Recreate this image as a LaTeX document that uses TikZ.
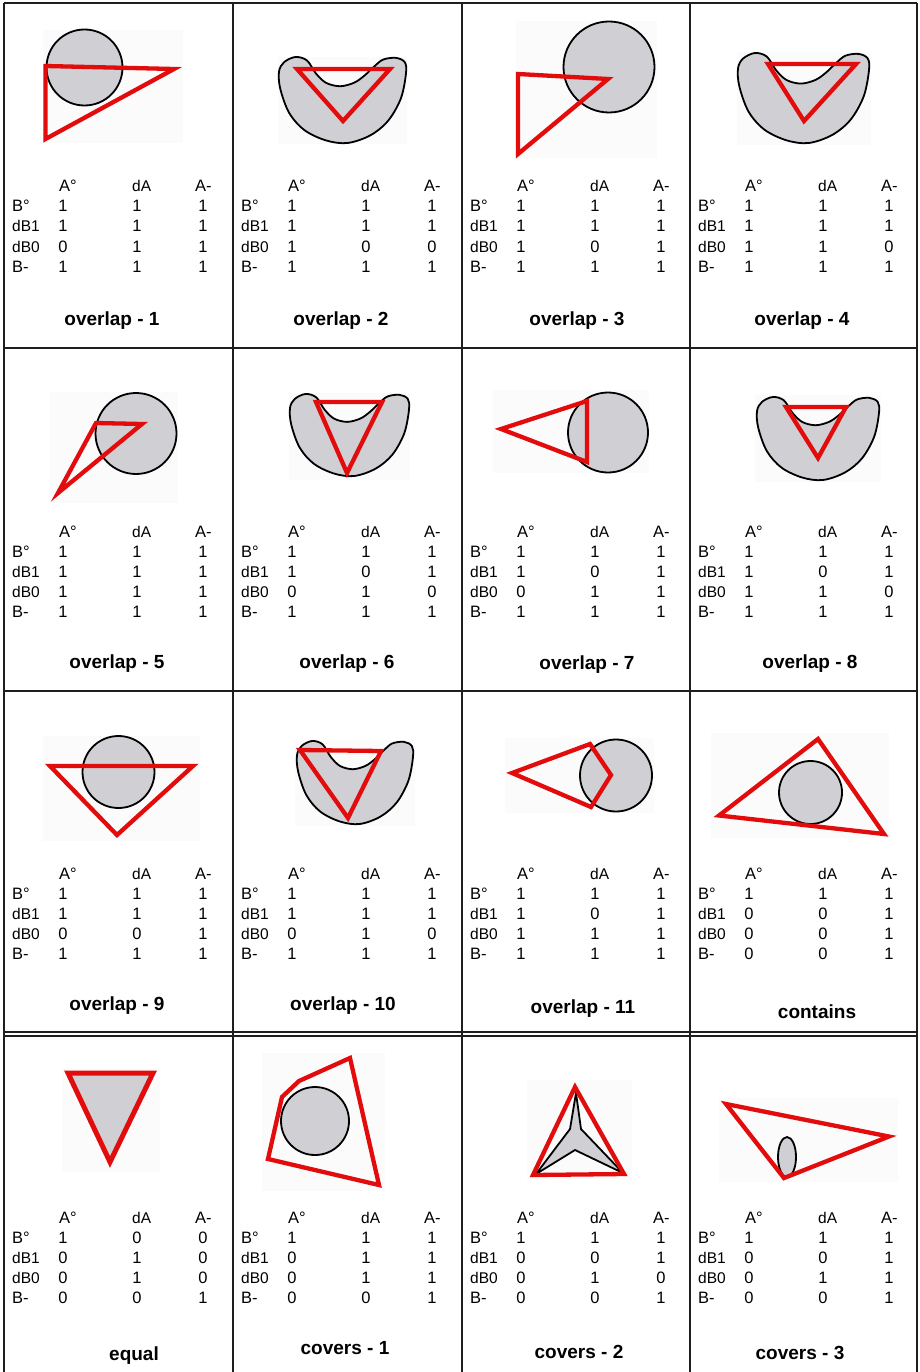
\documentclass[tikz,border=0pt]{standalone}
\usepackage{fontspec}
\setmainfont{Liberation Sans}
\definecolor{regfill}{RGB}{208,208,212}
\definecolor{rline}{RGB}{226,12,12}
\definecolor{bgpale}{RGB}{251,251,251}
\definecolor{gridc}{RGB}{30,30,30}
\tikzset{
  gridline/.style={draw=gridc, line width=1.4pt},
  hgridline/.style={draw=gridc, line width=2pt},
  figbg/.style={fill=bgpale, draw=none},
  region/.style={fill=regfill, draw=black, line width=1.8pt, line join=round},
  redpoly/.style={draw=rline, line width=4.3pt, line join=miter},
  hd/.style={inner sep=0pt, font=\fontsize{16.5}{18}\selectfont},
  hds/.style={inner sep=0pt, font=\fontsize{15.5}{18}\selectfont},
  ttl/.style={inner sep=0pt, anchor=base, font=\fontsize{19}{22}\selectfont\bfseries},
}
\newcommand{\ctab}[4]{%
  \node[hd, anchor=base west] (#1-ha) at ({#2+55},#3) {A°};
  \node[hds, anchor=base west] (#1-hd) at ({#2+128},#3) {dA};
  \node[hd, anchor=base west] (#1-hm) at ({#2+191},#3) {A-};
  \node[hd, anchor=base west] (#1-r1) at ({#2+8},{#3+20}) {B°};
  \node[hds, anchor=base west] (#1-r2) at ({#2+8},{#3+40}) {dB1};
  \node[hds, anchor=base west] (#1-r3) at ({#2+8},{#3+60}) {dB0};
  \node[hd, anchor=base west] (#1-r4) at ({#2+8},{#3+80}) {B-};
  \foreach \v [count=\k from 0] in {#4} {
    \pgfmathtruncatemacro\rr{floor(\k/3)}
    \pgfmathtruncatemacro\cc{mod(\k,3)}
    \ifcase\cc \def\xo{59}\or \def\xo{133}\or \def\xo{199}\fi
    \node[hd, anchor=base] (#1-v\k) at ({#2+\xo},{#3+20*(\rr+1)}) {\v};
  }
}
\newcommand{\bean}[4]{%
  \begin{scope}[shift={(#1,#2)}, xscale=#3, yscale=#4]
    \filldraw[region] plot[smooth cycle, tension=0.55] coordinates {
      (0.04,0.06) (0.13,0.0) (0.22,0.04) (0.29,0.19) (0.37,0.30) (0.48,0.34)
      (0.59,0.30) (0.67,0.22) (0.75,0.11) (0.82,0.03) (0.92,0.01) (0.99,0.06)
      (1.0,0.19) (0.96,0.48) (0.86,0.74) (0.72,0.91) (0.54,1.0) (0.37,0.97)
      (0.20,0.85) (0.08,0.65) (0.01,0.37) (0.0,0.17)};
  \end{scope}
}
\begin{document}
\begin{tikzpicture}[x=1pt, y=-1pt]
\useasboundingbox (0,0) rectangle (919,1372);
\fill[white] (0,0) rectangle (919,1372);

% ---------- grid ----------
\draw[hgridline] (4,3.5) -- (917,3.5);
\draw[hgridline] (4,347.5) -- (917,347.5);
\draw[hgridline] (4,691) -- (917,691);
\draw[gridline] (4,1032) -- (917,1032);
\draw[gridline] (4,1036) -- (917,1036);
\foreach \gx in {4,233,462,690,917} {\draw[gridline] (\gx,3) -- (\gx,1372);}

% ---------- row 1 ----------
% overlap - 1
\fill[figbg] (43,30) rectangle (183,143);
\filldraw[region] (84.5,67.5) circle [radius=38];
\draw[redpoly] (45.5,66) -- (174,69) -- (45.5,139) -- cycle;
% overlap - 2
\fill[figbg] (278,57) rectangle (407,144);
\bean{279}{57}{127}{86}
\draw[redpoly] (297,69) -- (390,69) -- (343,121) -- cycle;
% overlap - 3
\fill[figbg] (516,21) rectangle (657,158);
\filldraw[region] (609,67) circle [radius=45.5];
\draw[redpoly] (518,74) -- (608,79) -- (518,154) -- cycle;
% overlap - 4
\fill[figbg] (737,52) rectangle (871,145);
\bean{738}{53}{131}{90}
\draw[redpoly] (768,64) -- (856,64) -- (804,121) -- cycle;

% ---------- row 2 ----------
% overlap - 5
\fill[figbg] (50,392) rectangle (178,503);
\filldraw[region] (136,433.5) circle [radius=40.5];
\draw[redpoly] (96,423) -- (142,424) -- (58,493) -- cycle;
% overlap - 6
\fill[figbg] (289,393) rectangle (410,480);
\bean{290}{394}{119}{82}
\draw[redpoly] (316,402) -- (382,402) -- (347,473) -- cycle;
% overlap - 7
\fill[figbg] (493,390) rectangle (649,473);
\filldraw[region] (608,432.5) circle [radius=40];
\draw[redpoly] (501,429) -- (587,401) -- (587,462) -- cycle;
% overlap - 8
\fill[figbg] (755,395) rectangle (881,482);
\bean{757}{397}{122}{83}
\draw[redpoly] (786,407) -- (846,407) -- (818,458) -- cycle;

% ---------- row 3 ----------
% overlap - 9
\fill[figbg] (43,736) rectangle (200,841);
\filldraw[region] (118.5,772) circle [radius=36];
\draw[redpoly] (50,766) -- (193,766) -- (117,835) -- cycle;
% overlap - 10
\fill[figbg] (295,740) rectangle (415,826);
\bean{297}{741}{116}{83}
\draw[redpoly] (300,750) -- (381,751) -- (348,818) -- cycle;
% overlap - 11
\fill[figbg] (505,738) rectangle (654,813);
\filldraw[region] (616,775.5) circle [radius=36];
\draw[redpoly] (512,773) -- (590,744) -- (611,775) -- (591,807) -- cycle;
% contains
\fill[figbg] (711,733) rectangle (889,838);
\filldraw[region] (810.5,792.5) circle [radius=31.5];
\draw[redpoly] (818,739) -- (884,834) -- (719,815.5) -- cycle;

% ---------- row 4 ----------
% equal
\fill[figbg] (62,1068) rectangle (160,1172);
\filldraw[fill=regfill, draw=rline, line width=5pt, line join=miter] (68,1073) -- (153,1073) -- (110,1162) -- cycle;
% covers - 1
\fill[figbg] (262,1053) rectangle (385,1191);
\filldraw[region] (315,1121) circle [radius=34];
\draw[redpoly] (350,1058) -- (379,1185) -- (268,1159) -- (282,1097) -- (299,1081) -- cycle;
% covers - 2
\fill[figbg] (527,1080) rectangle (632,1179);
\filldraw[region, line join=miter] (576,1093) -- (581,1129) -- (623,1173) -- (575,1150) -- (536,1174) -- (570,1129) -- cycle;
\draw[redpoly] (575,1087) -- (624,1174) -- (533,1175) -- cycle;
% covers - 3
\fill[figbg] (719,1098) rectangle (898,1182);
\filldraw[region] (787,1157) ellipse [x radius=9, y radius=20];
\draw[redpoly] (726,1104) -- (889,1136.5) -- (784,1178) -- cycle;

% ---------- tables ----------
\ctab{t1}{4}{192}{1,1,1,1,1,1,0,1,1,1,1,1}
\ctab{t2}{233}{192}{1,1,1,1,1,1,1,0,0,1,1,1}
\ctab{t3}{462}{192}{1,1,1,1,1,1,1,0,1,1,1,1}
\ctab{t4}{690}{192}{1,1,1,1,1,1,1,1,0,1,1,1}
\ctab{t5}{4}{537}{1,1,1,1,1,1,1,1,1,1,1,1}
\ctab{t6}{233}{537}{1,1,1,1,0,1,0,1,0,1,1,1}
\ctab{t7}{462}{537}{1,1,1,1,0,1,0,1,1,1,1,1}
\ctab{t8}{690}{537}{1,1,1,1,0,1,1,1,0,1,1,1}
\ctab{t9}{4}{879}{1,1,1,1,1,1,0,0,1,1,1,1}
\ctab{t10}{233}{879}{1,1,1,1,1,1,0,1,0,1,1,1}
\ctab{t11}{462}{879}{1,1,1,1,0,1,1,1,1,1,1,1}
\ctab{t12}{690}{879}{1,1,1,0,0,1,0,0,1,0,0,1}
\ctab{t13}{4}{1223}{1,0,0,0,1,0,0,1,0,0,0,1}
\ctab{t14}{233}{1223}{1,1,1,0,1,1,0,1,1,0,0,1}
\ctab{t15}{462}{1223}{1,1,1,0,0,1,0,1,0,0,0,1}
\ctab{t16}{690}{1223}{1,1,1,0,0,1,0,1,1,0,0,1}

% ---------- titles ----------
\node[ttl] (n1) at (112,325) {overlap - 1};
\node[ttl] (n2) at (341,325) {overlap - 2};
\node[ttl] (n3) at (577,325) {overlap - 3};
\node[ttl] (n4) at (802,325) {overlap - 4};
\node[ttl] (n5) at (117,668) {overlap - 5};
\node[ttl] (n6) at (347,668) {overlap - 6};
\node[ttl] (n7) at (587,669) {overlap - 7};
\node[ttl] (n8) at (810,668) {overlap - 8};
\node[ttl] (n9) at (117,1010) {overlap - 9};
\node[ttl] (n10) at (343,1010) {overlap - 10};
\node[ttl] (n11) at (583,1013) {overlap - 11};
\node[ttl] (n12) at (817,1018) {contains};
\node[ttl] (n13) at (134,1360) {equal};
\node[ttl] (n14) at (345,1354) {covers - 1};
\node[ttl] (n15) at (579,1358) {covers - 2};
\node[ttl] (n16) at (800,1359) {covers - 3};
\end{tikzpicture}
\end{document}
